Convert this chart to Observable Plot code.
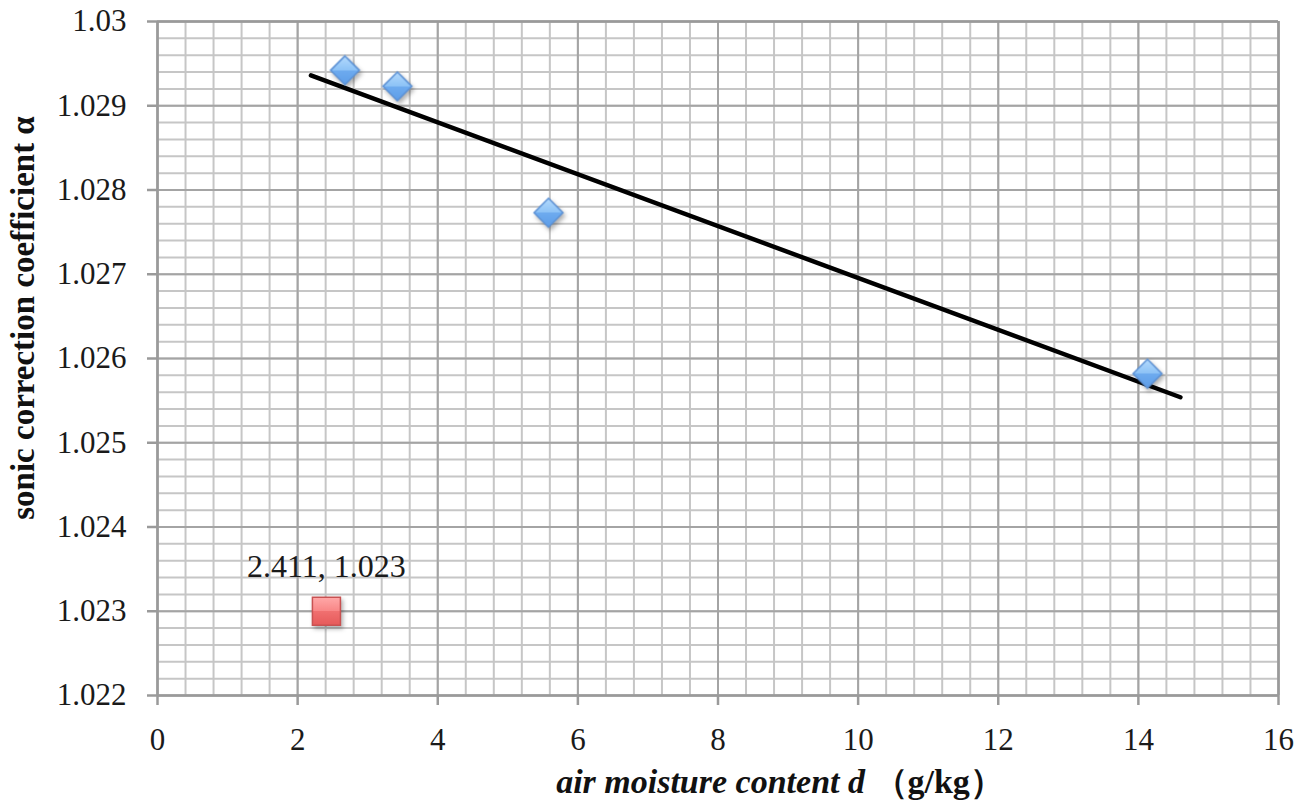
<!DOCTYPE html>
<html>
<head>
<meta charset="utf-8">
<script src="https://cdn.jsdelivr.net/npm/d3@7"></script>
<script src="https://cdn.jsdelivr.net/npm/@observablehq/plot@0.6"></script>
<style>
  html, body { margin: 0; padding: 0; background: #fff; }
  #chart svg { display: block; }
</style>
</head>
<body>
<div id="chart"></div>
<script>
// ---- data ----
const measuredX = [2.676, 3.424, 5.581, 14.13];
const measuredY = [1.02942, 1.02923, 1.02773, 1.02582];
const outlierX = [2.411];
const outlierY = [1.023];
const trendX = [2.19, 14.6];
const trendY = [1.02936, 1.02554];
const xTicks = [0, 2, 4, 6, 8, 10, 12, 14, 16];
const yTicks = [1.022, 1.023, 1.024, 1.025, 1.026, 1.027, 1.028, 1.029, 1.03];
const xLabelMain = "air moisture content d";
const xLabelUnit = "（g/kg）";
const yLabel = "sonic correction coefficient α";

// ---- tables built from the arrays ----
const measured = measuredX.map((x, i) => ({x, y: measuredY[i]}));
const outlier = outlierX.map((x, i) => ({x, y: outlierY[i], label: `${x}, ${outlierY[i]}`}));
const trend = trendX.map((x, i) => ({x, y: trendY[i]}));
const xMinor = d3.range(0, 16.0001, 0.4);
const yMinor = d3.range(0, 41).map(i => 1.022 + i * 0.0002);

const serif = "'Liberation Serif', 'DejaVu Serif', serif";
const NS = "http://www.w3.org/2000/svg";

function defsMark() {
  const defs = document.createElementNS(NS, "defs");
  defs.innerHTML = `
    <linearGradient id="blueGrad" x1="0" y1="0" x2="0" y2="1">
      <stop offset="0" stop-color="#b4dafd"/>
      <stop offset="0.5" stop-color="#8cc2f6"/>
      <stop offset="0.5" stop-color="#6eabef"/>
      <stop offset="1" stop-color="#5d9de8"/>
    </linearGradient>
    <linearGradient id="redGrad" x1="0" y1="0" x2="0" y2="1">
      <stop offset="0" stop-color="#ffa8a8"/>
      <stop offset="0.5" stop-color="#f88686"/>
      <stop offset="0.5" stop-color="#f07070"/>
      <stop offset="1" stop-color="#e65a5a"/>
    </linearGradient>`;
  return defs;
}

function axisLabels(index, scales, values, dims) {
  const g = document.createElementNS(NS, "g");
  const tx = document.createElementNS(NS, "text");
  tx.setAttribute("x", 780);
  tx.setAttribute("y", 793);
  tx.setAttribute("text-anchor", "middle");
  tx.setAttribute("font-family", serif);
  tx.setAttribute("font-size", 34);
  tx.setAttribute("font-weight", "bold");
  tx.setAttribute("fill", "#111");
  const t1 = document.createElementNS(NS, "tspan");
  t1.setAttribute("font-style", "italic");
  t1.textContent = xLabelMain + " ";
  const t2 = document.createElementNS(NS, "tspan");
  t2.textContent = xLabelUnit;
  tx.appendChild(t1); tx.appendChild(t2);
  g.appendChild(tx);
  const ty = document.createElementNS(NS, "text");
  ty.setAttribute("transform", "translate(34,318) rotate(-90)");
  ty.setAttribute("text-anchor", "middle");
  ty.setAttribute("font-family", serif);
  ty.setAttribute("font-size", 33);
  ty.setAttribute("font-weight", "bold");
  ty.setAttribute("fill", "#111");
  ty.textContent = yLabel;
  g.appendChild(ty);
  return g;
}

const fmtY = d => String(+d.toFixed(3));

const chart = Plot.plot({
  width: 1307,
  height: 805,
  marginLeft: 157,
  marginRight: 29,
  marginTop: 21,
  marginBottom: 110,
  x: {domain: [0, 16]},
  y: {domain: [1.022, 1.03]},
  style: {background: "#fff", fontFamily: serif},
  marks: [
    defsMark,
    Plot.gridX(xMinor, {stroke: "#c6c6c6", strokeOpacity: 1, strokeWidth: 2}),
    Plot.gridY(yMinor, {stroke: "#c6c6c6", strokeOpacity: 1, strokeWidth: 2}),
    Plot.gridX(xTicks, {stroke: "#a4a4a4", strokeOpacity: 1, strokeWidth: 2}),
    Plot.gridY(yTicks, {stroke: "#a4a4a4", strokeOpacity: 1, strokeWidth: 2}),
    Plot.ruleX([0, 16], {stroke: "#9a9a9a", strokeWidth: 2.5}),
    Plot.ruleY([1.022, 1.03], {stroke: "#9a9a9a", strokeWidth: 2.5}),
    Plot.axisX(xTicks, {
      tickSize: 10, tickPadding: 22, stroke: "#9a9a9a", strokeWidth: 2.5,
      fontSize: 31, fill: "#1a1a1a", label: null, tickFormat: d => String(d)
    }),
    Plot.axisY(yTicks, {
      tickSize: 10, tickPadding: 21, stroke: "#9a9a9a", strokeWidth: 2.5,
      fontSize: 31, fill: "#1a1a1a", label: null, tickFormat: fmtY
    }),
    Plot.line(trend, {x: "x", y: "y", stroke: "#000", strokeWidth: 4.5}),
    Plot.dot(measured, {x: "x", y: "y", symbol: "diamond2", r: 13, fill: "url(#blueGrad)", stroke: "#5b90d4", strokeWidth: 1.5}),
    Plot.dot(outlier, {x: "x", y: "y", symbol: "square", r: 15.8, fill: "url(#redGrad)", stroke: "#c85252", strokeWidth: 1.5}),
    Plot.text(outlier, {x: "x", y: "y", text: "label", dy: -45, fontSize: 32, fill: "#1a1a1a", fontFamily: serif, textAnchor: "middle"}),
    axisLabels
  ]
});

chart.querySelectorAll('g[aria-label="dot"]').forEach(g => {
  g.style.filter = "drop-shadow(2px 3px 2px rgba(0,0,0,0.3))";
});

document.getElementById("chart").appendChild(chart);
</script>
</body>
</html>
